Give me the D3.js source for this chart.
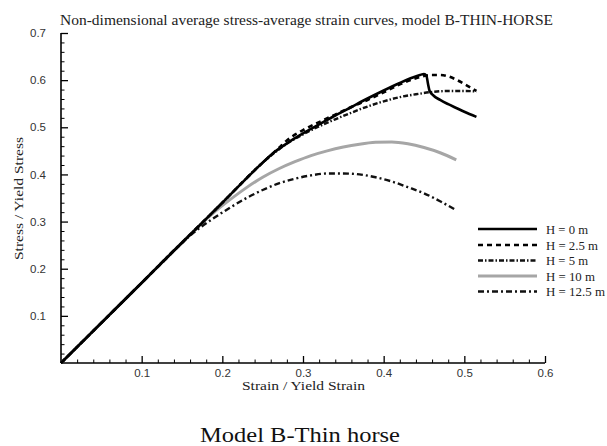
<!DOCTYPE html>
<html><head><meta charset="utf-8">
<script src="https://cdn.jsdelivr.net/npm/d3@7/dist/d3.min.js"></script>
<style>body{margin:0;background:#fff}svg{display:block}</style>
</head><body>
<svg id="c" width="607" height="446"></svg>
<script>
const titleText = "Non-dimensional average stress-average strain curves, model B-THIN-HORSE";
const captionText = "Model B-Thin horse";
const xLabel = "Strain / Yield Strain";
const yLabel = "Stress / Yield Stress";
const xTicks = [0.1, 0.2, 0.3, 0.4, 0.5, 0.6];
const yTicks = [0.1, 0.2, 0.3, 0.4, 0.5, 0.6, 0.7];
const seriesNames = ["H = 0 m", "H = 2.5 m", "H = 5 m", "H = 10 m", "H = 12.5 m"];

const h0 = [[0,0],[0.05,0.085],[0.1,0.17],[0.15,0.255],[0.2,0.34],[0.25,0.425],[0.265,0.448],[0.28,0.466],[0.30,0.487],[0.32,0.506],[0.34,0.525],[0.36,0.543],[0.38,0.561],[0.40,0.578],[0.42,0.594],[0.435,0.605],[0.445,0.611],[0.45,0.613],[0.453,0.609],[0.455,0.592],[0.457,0.577],[0.462,0.567],[0.47,0.558],[0.48,0.549],[0.49,0.541],[0.50,0.533],[0.515,0.522]];
const h25 = [[0,0],[0.1,0.17],[0.2,0.34],[0.25,0.425],[0.27,0.456],[0.28,0.472],[0.30,0.494],[0.32,0.511],[0.34,0.527],[0.36,0.543],[0.38,0.558],[0.40,0.574],[0.42,0.591],[0.44,0.604],[0.45,0.609],[0.46,0.611],[0.47,0.611],[0.48,0.608],[0.49,0.601],[0.50,0.592],[0.51,0.582],[0.515,0.577]];
const h5 = [[0,0],[0.1,0.17],[0.2,0.34],[0.25,0.425],[0.27,0.453],[0.28,0.465],[0.30,0.485],[0.32,0.502],[0.34,0.517],[0.36,0.531],[0.38,0.544],[0.40,0.555],[0.42,0.564],[0.44,0.570],[0.46,0.575],[0.48,0.577],[0.50,0.577],[0.515,0.576]];
const h10 = [[0,0],[0.1,0.17],[0.17,0.289],[0.19,0.32],[0.21,0.347],[0.23,0.372],[0.25,0.394],[0.27,0.412],[0.29,0.427],[0.31,0.44],[0.33,0.45],[0.35,0.458],[0.37,0.464],[0.39,0.468],[0.41,0.469],[0.43,0.465],[0.45,0.457],[0.47,0.446],[0.49,0.431]];
const h125 = [[0,0],[0.1,0.17],[0.15,0.255],[0.17,0.284],[0.19,0.308],[0.21,0.33],[0.23,0.35],[0.25,0.367],[0.27,0.381],[0.29,0.391],[0.31,0.398],[0.33,0.402],[0.35,0.402],[0.37,0.4],[0.39,0.394],[0.41,0.385],[0.43,0.373],[0.45,0.36],[0.47,0.343],[0.488,0.326]];
const seriesData = [h0, h25, h5, h10, h125];

const styles = [
  {stroke:"#000", width:2.6, dash:null},
  {stroke:"#000", width:2.6, dash:"5,4"},
  {stroke:"#111", width:2.4, dash:"5,2,1.5,2"},
  {stroke:"#a6a6a6", width:3, dash:null},
  {stroke:"#111", width:2.4, dash:"6,3,2,3"}
];
const legendTextWidths = [42, 52, 42, 49, 59];

const svg = d3.select("#c");
const x = d3.scaleLinear().domain([0, 0.6]).range([61, 545]);
const y = d3.scaleLinear().domain([0, 0.7]).range([363, 33]);

const xMinor = d3.range(0, 31).map(i => i * 0.02).filter(v => v > 0 && Math.abs(v*10 - Math.round(v*10)) > 1e-6);
const yMinor = d3.range(0, 36).map(i => i * 0.02).filter(v => v > 0 && v <= 0.7 && Math.abs(v*10 - Math.round(v*10)) > 1e-6);

const xAxis = d3.axisBottom(x).tickValues(xTicks).tickSize(-7).tickFormat(d3.format(".1f")).tickPadding(12);
const gx = svg.append("g").attr("transform", "translate(0,363)").call(xAxis);
gx.select(".domain").attr("stroke", "#000").attr("stroke-width", 1.6).attr("d", `M${x(0)},0H${x(0.6)}`);
gx.selectAll(".tick line").attr("stroke", "#000").attr("stroke-width", 1.3);
gx.selectAll(".tick text").attr("font-family", "Liberation Sans, Arial, sans-serif").attr("font-size", 11.5).attr("fill", "#333").attr("dy", "0.2em");
svg.append("g").attr("transform", "translate(0,363)").call(d3.axisBottom(x).tickValues(xMinor).tickSize(-3.5).tickFormat(""))
  .call(g => { g.select(".domain").remove(); g.selectAll("line").attr("stroke", "#000").attr("stroke-width", 1); });

const yAxis = d3.axisLeft(y).tickValues(yTicks).tickSize(-7).tickFormat(d3.format(".1f")).tickPadding(15);
const gy = svg.append("g").attr("transform", "translate(61,0)").call(yAxis);
gy.select(".domain").attr("stroke", "#000").attr("stroke-width", 1.6).attr("d", `M0,${y(0)}V${y(0.7)}`);
gy.selectAll(".tick line").attr("stroke", "#000").attr("stroke-width", 1.3);
gy.selectAll(".tick text").attr("font-family", "Liberation Sans, Arial, sans-serif").attr("font-size", 11.5).attr("fill", "#333");
svg.append("g").attr("transform", "translate(61,0)").call(d3.axisLeft(y).tickValues(yMinor).tickSize(-3.5).tickFormat(""))
  .call(g => { g.select(".domain").remove(); g.selectAll("line").attr("stroke", "#000").attr("stroke-width", 1); });

const line = d3.line().x(d => x(d[0])).y(d => y(d[1])).curve(d3.curveMonotoneX);
const order = [3, 4, 2, 1, 0];
order.forEach(i => {
  const s = styles[i];
  svg.append("path").datum(seriesData[i]).attr("d", line)
    .attr("fill", "none").attr("stroke", s.stroke).attr("stroke-width", s.width)
    .attr("stroke-dasharray", s.dash).attr("stroke-linejoin", "round");
});

const legendY = [229, 245, 260.5, 276, 291.5];
seriesNames.forEach((name, i) => {
  const s = styles[i];
  svg.append("line").attr("x1", 478).attr("x2", 537).attr("y1", legendY[i]).attr("y2", legendY[i])
    .attr("stroke", s.stroke).attr("stroke-width", s.width).attr("stroke-dasharray", s.dash);
  svg.append("text").attr("x", 546).attr("y", legendY[i] + 4.5).text(name)
    .attr("font-family", "Liberation Serif, Times New Roman, serif").attr("font-size", 13).attr("fill", "#222")
    .attr("textLength", legendTextWidths[i]).attr("lengthAdjust", "spacingAndGlyphs");
});

const serif = "Liberation Serif, Times New Roman, serif";
svg.append("text").attr("x", 60).attr("y", 25).text(titleText)
  .attr("font-family", serif).attr("font-size", 14).attr("fill", "#222")
  .attr("textLength", 493).attr("lengthAdjust", "spacingAndGlyphs");
svg.append("text").attr("x", 242).attr("y", 390).text(xLabel)
  .attr("font-family", serif).attr("font-size", 13.5).attr("fill", "#222")
  .attr("textLength", 123).attr("lengthAdjust", "spacingAndGlyphs");
svg.append("text").attr("transform", "translate(23,260) rotate(-90)").text(yLabel)
  .attr("font-family", serif).attr("font-size", 13.5).attr("fill", "#222")
  .attr("textLength", 123).attr("lengthAdjust", "spacingAndGlyphs");
svg.append("text").attr("x", 200).attr("y", 442).text(captionText)
  .attr("font-family", serif).attr("font-size", 22).attr("fill", "#111")
  .attr("textLength", 200).attr("lengthAdjust", "spacingAndGlyphs");
</script>
</body></html>
